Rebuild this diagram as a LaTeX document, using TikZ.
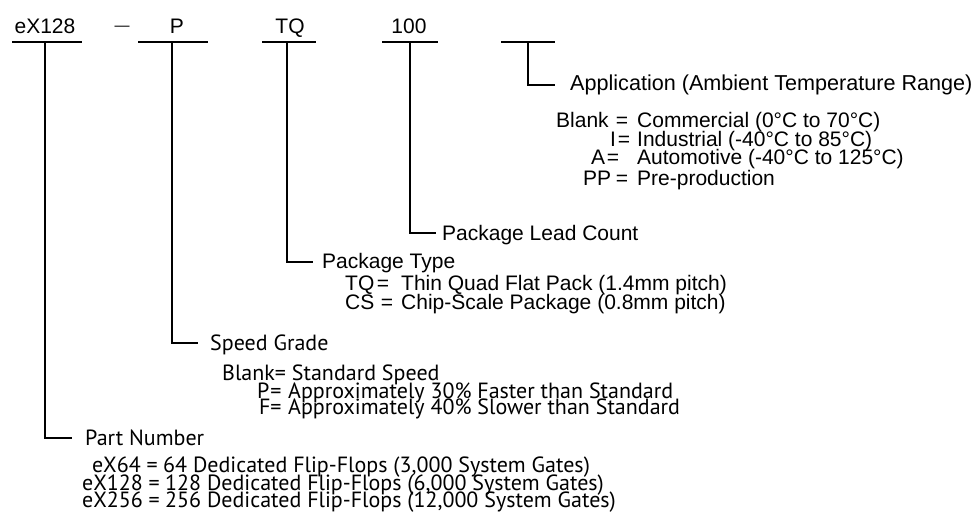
\documentclass[tikz,border=0pt]{standalone}
\usepackage{fontspec}
\setmainfont{Liberation Sans}
\newfontfamily\lowfont{PT Sans}
\begin{document}
\begin{tikzpicture}[x=1pt,y=-1pt,
  lbl/.style={inner sep=0pt, anchor=base, font=\fontsize{21}{24}\selectfont},
  toptxt/.style={inner sep=0pt, anchor=base west, font=\fontsize{21}{24}\selectfont},
  lowtxt/.style={inner sep=0pt, anchor=base west, font=\lowfont\fontsize{22}{24}\selectfont},
  loweq/.style={inner sep=0pt, anchor=base east, font=\lowfont\fontsize{22}{24}\selectfont},
  lowmid/.style={inner sep=0pt, anchor=base, font=\lowfont\fontsize{22}{24}\selectfont},
  conn/.style={line width=1.5pt},
]
\useasboundingbox (0,0) rectangle (980,512);
% top code fields
\node[lbl] (t1) at (45,33) {eX128};
\node[lbl, font=\fontsize{15}{18}\selectfont] (tdash) at (122,30) {—};
\node[lbl] (t2) at (177,33) {P};
\node[lbl] (t3) at (290,33) {TQ};
\node[lbl] (t4) at (409,33) {100};
% underlines
\coordinate (u1l) at (12,42);  \coordinate (u1r) at (82,42);  \coordinate (u1) at (45,42);
\coordinate (u2l) at (138,42); \coordinate (u2r) at (208,42); \coordinate (u2) at (172,42);
\coordinate (u3l) at (262,42); \coordinate (u3r) at (316,42); \coordinate (u3) at (287,42);
\coordinate (u4l) at (382,42); \coordinate (u4r) at (438,42); \coordinate (u4) at (410,42);
\coordinate (u5l) at (501,42); \coordinate (u5r) at (555,42); \coordinate (u5) at (528,42);
\foreach \i in {1,...,5}{\draw[conn] (u\i l) -- (u\i r);}
% corner ends
\coordinate (e5) at (555,85);
\coordinate (e4) at (436,233);
\coordinate (e3) at (313,262);
\coordinate (e2) at (198,343);
\coordinate (e1) at (72,438);
\foreach \i in {1,...,5}{\draw[conn] (u\i) |- (e\i);}
% Application
\node[toptxt, font=\fontsize{21.6}{24}\selectfont] (app) at (570,90) {Application (Ambient Temperature Range)};
\node[toptxt] (a1l) at (556,127.5) {Blank};
\node[lbl] (a1e) at (622,127.5) {=};
\node[toptxt] (a1r) at (637,127.5) {Commercial (0°C to 70°C)};
\node[toptxt] (a2l) at (610,146) {I};
\node[lbl] (a2e) at (624,146) {=};
\node[toptxt] (a2r) at (637,146) {Industrial (-40°C to 85°C)};
\node[toptxt] (a3l) at (591,164.5) {A};
\node[lbl] (a3e) at (613,164.5) {=};
\node[toptxt] (a3r) at (637,164.5) {Automotive (-40°C to 125°C)};
\node[toptxt] (a4l) at (583,185) {PP};
\node[lbl] (a4e) at (622,185) {=};
\node[toptxt] (a4r) at (637,185) {Pre-production};
% Package Lead Count
\node[toptxt] (plc) at (442,240.5) {Package Lead Count};
% Package Type
\node[toptxt] (pt) at (322,268) {Package Type};
\node[toptxt] (pt1l) at (345,290.5) {TQ};
\node[lbl] (pt1e) at (383,290.5) {=};
\node[toptxt] (pt1r) at (401,290.5) {Thin Quad Flat Pack (1.4mm pitch)};
\node[toptxt] (pt2l) at (345,309) {CS};
\node[lbl] (pt2e) at (387,309) {=};
\node[toptxt] (pt2r) at (401,309) {Chip-Scale Package (0.8mm pitch)};
% Speed Grade
\node[lowtxt] (sg) at (210,350.5) {Speed Grade};
\node[lowtxt] (sg1) at (222,380) {Blank= Standard Speed};
\node[lowtxt] (sg2l) at (257,398) {P};
\node[lowmid] (sg2e) at (276,398) {=};
\node[lowtxt] (sg2r) at (288,398) {Approximately 30\% Faster than Standard};
\node[lowtxt] (sg3l) at (259,414) {F};
\node[lowmid] (sg3e) at (276,414) {=};
\node[lowtxt] (sg3r) at (288,414) {Approximately 40\% Slower than Standard};
% Part Number
\node[lowtxt] (pn) at (85,445.5) {Part Number};
\node[loweq] (pn1l) at (158,472.5) {eX64 =};
\node[lowtxt] (pn1r) at (163,472.5) {64 Dedicated Flip-Flops (3,000 System Gates)};
\node[loweq] (pn2l) at (160,490) {eX128 =};
\node[lowtxt] (pn2r) at (165,490) {128 Dedicated Flip-Flops (6,000 System Gates)};
\node[loweq] (pn3l) at (160,507) {eX256 =};
\node[lowtxt] (pn3r) at (165,507) {256 Dedicated Flip-Flops (12,000 System Gates)};
\end{tikzpicture}
\end{document}
